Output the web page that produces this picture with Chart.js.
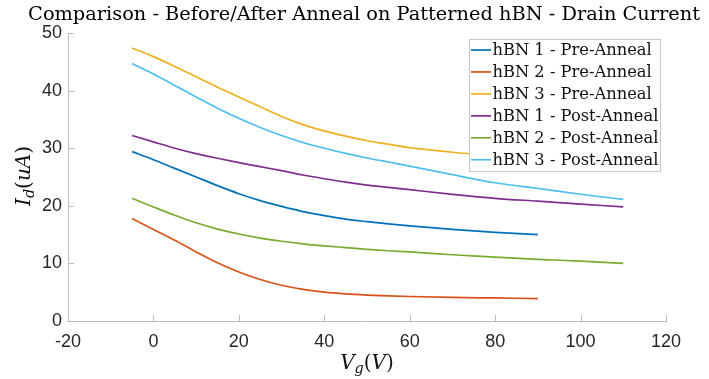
<!DOCTYPE html>
<html><head><meta charset="utf-8">
<script src="https://cdn.jsdelivr.net/npm/chart.js@4.4.0/dist/chart.umd.min.js"></script>
<style>html,body{margin:0;padding:0;background:#fff;} #wrap{width:709px;height:379px;position:relative;}</style>
</head><body><div id="wrap"><canvas id="c" width="709" height="379"></canvas></div>
<script>
const titleText = 'Comparison - Before/After Anneal on Patterned hBN - Drain Current';
const seriesLabels = ['hBN 1 - Pre-Anneal','hBN 2 - Pre-Anneal','hBN 3 - Pre-Anneal','hBN 1 - Post-Anneal','hBN 2 - Post-Anneal','hBN 3 - Post-Anneal'];
const seriesColors = ['#0072BD','#D95319','#EDB120','#7E2F8E','#77AC30','#4DBEEE'];
const xTicks = [-20,0,20,40,60,80,100,120];
const yTicks = [0,10,20,30,40,50];
const vgPre  = [-5,0,5,10,15,20,25,30,35,40,45,50,55,60,70,80,90];
const vgPost = [-5,0,5,10,15,20,25,30,35,40,45,50,55,60,70,80,90,100,110];
const hbn1Pre  = [29.4,28.0,26.5,25.0,23.5,22.1,20.9,19.9,19.0,18.3,17.7,17.25,16.85,16.5,15.9,15.4,15.0];
const hbn2Pre  = [17.8,15.9,14.0,12.0,10.1,8.5,7.2,6.2,5.5,5.0,4.7,4.5,4.35,4.25,4.1,4.0,3.9];
const hbn3Pre  = [47.4,45.9,44.2,42.4,40.6,38.9,37.2,35.5,34.1,33.0,32.1,31.3,30.7,30.1,29.3,28.7,28.2];
const hbn1Post = [32.2,31.1,30.0,29.05,28.25,27.5,26.8,26.1,25.35,24.7,24.1,23.6,23.2,22.8,22.0,21.3,20.8,20.3,19.8];
const hbn2Post = [21.3,19.8,18.35,17.05,15.95,15.1,14.4,13.85,13.4,13.05,12.75,12.45,12.2,12.0,11.5,11.1,10.7,10.4,10.0];
const hbn3Post = [44.7,42.9,40.9,38.9,36.95,35.2,33.6,32.2,31.0,30.0,29.1,28.3,27.6,26.9,25.4,24.0,23.0,22.0,21.1];

const seriesX = [vgPre,vgPre,vgPre,vgPost,vgPost,vgPost];
const seriesY = [hbn1Pre,hbn2Pre,hbn3Pre,hbn1Post,hbn2Post,hbn3Post];

const datasets = seriesY.map((ys,i)=>({
  label: seriesLabels[i],
  data: ys.map((v,j)=>({x: seriesX[i][j], y: v})),
  borderColor: seriesColors[i],
  backgroundColor: seriesColors[i],
  borderWidth: 1.7,
  pointRadius: 0,
  showLine: true,
  fill: false,
  cubicInterpolationMode: 'monotone'
}));

const SERIF = '"DejaVu Serif", "Liberation Serif", serif';
function fitFont(ctx, text, targetW, style){
  const base = 20;
  ctx.font = style + ' ' + base + 'px ' + SERIF;
  const w = ctx.measureText(text).width;
  return base * targetW / w;
}
function drawMath(ctx, parts, x, y, size){
  let total = 0;
  const fonts = parts.map(p=>{
    const s = p[2] ? size*0.72 : size;
    return (p[1]?'italic ':'') + s.toFixed(2) + 'px ' + SERIF;
  });
  parts.forEach((p,i)=>{ ctx.font = fonts[i]; total += ctx.measureText(p[0]).width; });
  let cx = x - total/2;
  ctx.textAlign = 'left'; ctx.textBaseline = 'middle';
  parts.forEach((p,i)=>{
    ctx.font = fonts[i];
    ctx.fillText(p[0], cx, y + (p[2] ? size*0.28 : 0));
    cx += ctx.measureText(p[0]).width;
  });
}

const deco = {
  id: 'deco',
  afterDatasetsDraw(chart){
    const ctx = chart.ctx, ca = chart.chartArea, xs = chart.scales.x, ys = chart.scales.y;
    ctx.save();
    ctx.strokeStyle = '#bcbcbc'; ctx.lineWidth = 1;
    ctx.beginPath();
    xs.ticks.forEach(t=>{ const px = Math.round(xs.getPixelForValue(t.value))+0.5; ctx.moveTo(px, ca.bottom); ctx.lineTo(px, ca.bottom-6); });
    ys.ticks.forEach(t=>{ const py = Math.round(ys.getPixelForValue(t.value))+0.5; ctx.moveTo(ca.left, py); ctx.lineTo(ca.left+6, py); });
    ctx.stroke();

    const lx = 469.5, ly = 39.5, lw = 191, lh = 132;
    ctx.fillStyle = '#ffffff'; ctx.fillRect(lx, ly, lw, lh);
    ctx.strokeStyle = '#c6c6c6'; ctx.strokeRect(lx, ly, lw, lh);
    const fs = fitFont(ctx, 'hBN 1 - Post-Anneal', 166, '');
    ctx.font = fs.toFixed(2) + 'px ' + SERIF;
    ctx.textBaseline = 'middle'; ctx.textAlign = 'left';
    chart.data.datasets.forEach((ds,i)=>{
      const ry = 50 + i*21.95;
      ctx.strokeStyle = ds.borderColor; ctx.lineWidth = 1.7;
      ctx.beginPath(); ctx.moveTo(471, ry); ctx.lineTo(491, ry); ctx.stroke();
      ctx.fillStyle = '#111';
      ctx.fillText(ds.label, 492.5, ry + 1);
    });

    const ts = fitFont(ctx, titleText, 672, '');
    ctx.font = ts.toFixed(2) + 'px ' + SERIF;
    ctx.fillStyle = '#000'; ctx.textAlign = 'center'; ctx.textBaseline = 'alphabetic';
    ctx.fillText(titleText, 364, 20);

    ctx.fillStyle = '#111';
    drawMath(ctx, [['V',true,false],['g',true,true],['(',false,false],['V',true,false],[')',false,false]], (ca.left+ca.right)/2, 364, 20);
    ctx.save();
    ctx.translate(25, 176); ctx.rotate(-Math.PI/2);
    drawMath(ctx, [['I',true,false],['d',true,true],['(',false,false],['uA',true,false],[')',false,false]], 0, 0, 20);
    ctx.restore();
    ctx.restore();
  }
};

new Chart(document.getElementById('c'), {
  type: 'scatter',
  data: { datasets },
  options: {
    responsive: false, animation: false, devicePixelRatio: 1,
    layout: { padding: { top: 33, right: 43, left: 0, bottom: 0 } },
    plugins: { legend: { display: false }, title: { display: false }, tooltip: { enabled: false } },
    scales: {
      x: {
        type: 'linear', min: -20, max: 120,
        afterBuildTicks: s => { s.ticks = xTicks.map(v=>({value:v})); },
        afterFit: s => { s.height = 58; },
        grid: { display: true, drawOnChartArea: false, drawTicks: false },
        border: { color: '#bcbcbc', width: 1 },
        ticks: { autoSkip: false, maxRotation: 0, padding: 10, color: '#262626', font: { family: '"Liberation Sans", Arial, sans-serif', size: 18 } }
      },
      y: {
        type: 'linear', min: 0, max: 50,
        afterBuildTicks: s => { s.ticks = yTicks.map(v=>({value:v})); },
        afterFit: s => { s.width = 68; },
        grid: { display: true, drawOnChartArea: false, drawTicks: false },
        border: { color: '#bcbcbc', width: 1 },
        ticks: { autoSkip: false, padding: 6, color: '#262626', font: { family: '"Liberation Sans", Arial, sans-serif', size: 18 } }
      }
    }
  },
  plugins: [deco]
});
</script></body></html>
